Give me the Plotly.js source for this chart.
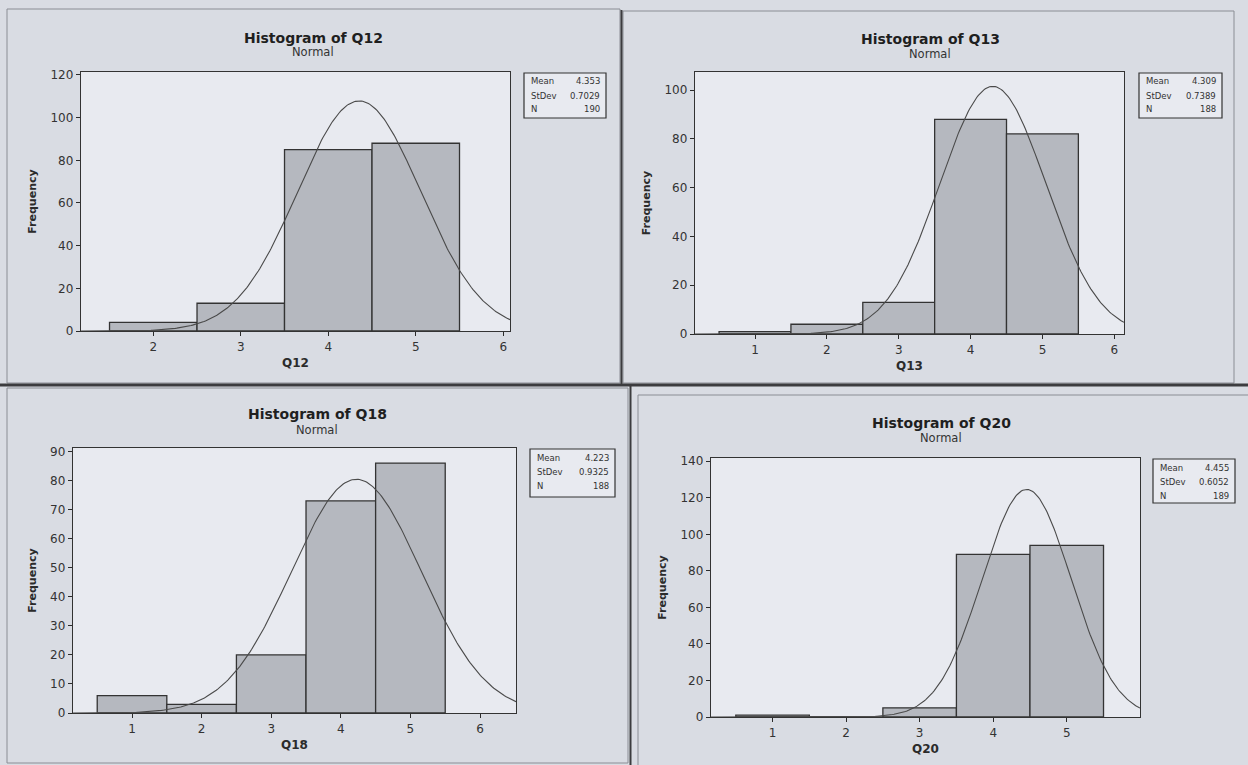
<!DOCTYPE html>
<html>
<head>
<meta charset="utf-8">
<script src="https://cdn.plot.ly/plotly-3.0.1.min.js"></script>
<style>
  html, body { margin: 0; padding: 0; background: #d9dce3; }
  #chart { width: 1248px; height: 765px; }
</style>
</head>
<body>
<div id="chart"></div>
<script>
// ---------------- data ----------------
const variableNames = ['Q12', 'Q13', 'Q18', 'Q20'];

const q12Bins = [2, 3, 4, 5];
const q12Counts = [4, 13, 85, 88];
const q13Bins = [1, 2, 3, 4, 5];
const q13Counts = [1, 4, 13, 88, 82];
const q18Bins = [1, 2, 3, 4, 5];
const q18Counts = [6, 3, 20, 73, 86];
const q20Bins = [1, 2, 3, 4, 5];
const q20Counts = [1, 0, 5, 89, 94];

const statMeans = ['4.353', '4.309', '4.223', '4.455'];
const statStDevs = ['0.7029', '0.7389', '0.9325', '0.6052'];
const statNs = ['190', '188', '188', '189'];

const q12XTicks = [2, 3, 4, 5, 6];
const q13XTicks = [1, 2, 3, 4, 5, 6];
const q18XTicks = [1, 2, 3, 4, 5, 6];
const q20XTicks = [1, 2, 3, 4, 5];

const q12YTicks = [0, 20, 40, 60, 80, 100, 120];
const q13YTicks = [0, 20, 40, 60, 80, 100];
const q18YTicks = [0, 10, 20, 30, 40, 50, 60, 70, 80, 90];
const q20YTicks = [0, 20, 40, 60, 80, 100, 120, 140];

const statLabels = ['Mean', 'StDev', 'N'];

// ---------------- layout geometry (pixels) ----------------
const W = 1248, H = 765;
const px = x => x / W;
const py = y => 1 - y / H;

const binsList = [q12Bins, q13Bins, q18Bins, q20Bins];
const countsList = [q12Counts, q13Counts, q18Counts, q20Counts];
const xTicksList = [q12XTicks, q13XTicks, q18XTicks, q20XTicks];
const yTicksList = [q12YTicks, q13YTicks, q18YTicks, q20YTicks];

const panels = [
  { plot: [81, 72, 510, 331],  frame: [7, 9, 620, 383],    box: [524, 73, 606, 118],   titleX: 313, titleY: 37.5,  subY: 52.5,  xr: [1.174, 6.077], yr: [0, 121.4] },
  { plot: [695, 72, 1124, 334], frame: [623, 11, 1234, 383], box: [1139, 73, 1222, 118], titleX: 930, titleY: 38.5,  subY: 54,    xr: [0.165, 6.135], yr: [0, 107.4] },
  { plot: [73, 448, 516, 713], frame: [7, 388, 628, 763],   box: [530, 449, 615, 497],  titleX: 317, titleY: 413.5, subY: 429.5, xr: [0.152, 6.517], yr: [0, 91.2] },
  { plot: [711, 458, 1140, 717], frame: [638, 395, 1252, 770], box: [1153, 459, 1235, 503], titleX: 941, titleY: 422.5, subY: 438.5, xr: [0.163, 5.996], yr: [0, 141.8] }
];

const FONT = 'DejaVu Sans';
const INK = '#2b2b2b';
const BAR_FILL = '#b5b8bf';
const PLOT_BG = '#e8eaf0';
const PAPER_BG = '#d9dce3';

const traces = [];
const layout = {
  width: W, height: H,
  margin: { l: 0, r: 0, t: 0, b: 0 },
  paper_bgcolor: PAPER_BG,
  plot_bgcolor: PLOT_BG,
  showlegend: false,
  bargap: 0,
  font: { family: FONT, color: INK, size: 12 },
  shapes: [],
  annotations: []
};

panels.forEach((p, i) => {
  const sfx = i === 0 ? '' : String(i + 1);
  const xa = 'x' + sfx, ya = 'y' + sfx;

  // histogram bars
  traces.push({
    type: 'bar',
    x: binsList[i],
    y: countsList[i],
    width: 1,
    xaxis: xa, yaxis: ya,
    marker: { color: BAR_FILL, line: { color: '#333333', width: 1.3 } },
    hoverinfo: 'x+y'
  });

  // fitted normal curve defined by the Mean / StDev / N shown in the stats box (bin width 1)
  const mu = parseFloat(statMeans[i]);
  const sd = parseFloat(statStDevs[i]);
  const n = parseFloat(statNs[i]);
  const cx = [], cy = [];
  const steps = 300;
  for (let k = 0; k <= steps; k++) {
    const x = p.xr[0] + (p.xr[1] - p.xr[0]) * k / steps;
    cx.push(x);
    cy.push(n / (sd * Math.sqrt(2 * Math.PI)) * Math.exp(-0.5 * Math.pow((x - mu) / sd, 2)));
  }
  traces.push({
    type: 'scatter', mode: 'lines',
    x: cx, y: cy,
    xaxis: xa, yaxis: ya,
    line: { color: '#4a4a4a', width: 1.1 },
    hoverinfo: 'skip'
  });

  const [x0, y0, x1, y1] = p.plot;
  layout['xaxis' + sfx] = {
    domain: [px(x0), px(x1)],
    anchor: ya,
    range: p.xr,
    tickvals: xTicksList[i],
    ticks: 'outside', ticklen: 4, tickwidth: 1, tickcolor: INK,
    showline: true, linecolor: '#333333', linewidth: 1.2, mirror: true,
    showgrid: false, zeroline: false,
    tickfont: { family: FONT, size: 12, color: '#333333' },
    title: { text: variableNames[i], font: { family: FONT, size: 12, color: INK, weight: 'bold' }, standoff: 6 },
    fixedrange: true
  };
  layout['yaxis' + sfx] = {
    domain: [py(y1), py(y0)],
    anchor: xa,
    range: p.yr,
    tickvals: yTicksList[i],
    ticks: 'outside', ticklen: 4, tickwidth: 1, tickcolor: INK,
    showline: true, linecolor: '#333333', linewidth: 1.2, mirror: true,
    showgrid: false, zeroline: false,
    tickfont: { family: FONT, size: 12, color: '#333333' },
    title: { text: 'Frequency', font: { family: FONT, size: 11, color: INK, weight: 'bold' }, standoff: 11 },
    fixedrange: true
  };

  // panel frame
  const [fx0, fy0, fx1, fy1] = p.frame;
  layout.shapes.push({
    type: 'rect', xref: 'paper', yref: 'paper', layer: 'below',
    x0: px(fx0), x1: px(fx1), y0: py(fy1), y1: py(fy0),
    line: { color: '#8a8d94', width: 1 }, fillcolor: 'rgba(0,0,0,0)'
  });

  // titles
  layout.annotations.push({
    xref: 'paper', yref: 'paper', x: px(p.titleX), y: py(p.titleY),
    xanchor: 'center', yanchor: 'middle', showarrow: false,
    text: '<b>Histogram of ' + variableNames[i] + '</b>',
    font: { family: FONT, size: 14, color: '#1f1f1f' }
  });
  layout.annotations.push({
    xref: 'paper', yref: 'paper', x: px(p.titleX), y: py(p.subY),
    xanchor: 'center', yanchor: 'middle', showarrow: false,
    text: 'Normal',
    font: { family: FONT, size: 11.5, color: '#333333' }
  });

  // stats box
  const [bx0, by0, bx1, by1] = p.box;
  layout.shapes.push({
    type: 'rect', xref: 'paper', yref: 'paper',
    x0: px(bx0), x1: px(bx1), y0: py(by1), y1: py(by0),
    line: { color: '#333333', width: 1.2 }, fillcolor: PLOT_BG
  });
  const vals = [statMeans[i], statStDevs[i], statNs[i]];
  statLabels.forEach((lab, r) => {
    const ry = by0 + 8.5 + 14 * r;
    layout.annotations.push({
      xref: 'paper', yref: 'paper', x: px(bx0 + 5), y: py(ry),
      xanchor: 'left', yanchor: 'middle', showarrow: false,
      text: lab, font: { family: FONT, size: 8.5, color: '#333333' }
    });
    layout.annotations.push({
      xref: 'paper', yref: 'paper', x: px(bx1 - 4), y: py(ry),
      xanchor: 'right', yanchor: 'middle', showarrow: false,
      text: vals[r], font: { family: FONT, size: 8.5, color: '#333333' }
    });
  });
});

// dark dividers of the scanned page
layout.shapes.push(
  { type: 'line', xref: 'paper', yref: 'paper', x0: 0, x1: 1, y0: py(385), y1: py(385), line: { color: '#3c3c3f', width: 3 } },
  { type: 'line', xref: 'paper', yref: 'paper', x0: px(621.5), x1: px(621.5), y0: py(10), y1: py(385), line: { color: '#3c3c3f', width: 2 } },
  { type: 'line', xref: 'paper', yref: 'paper', x0: px(630.5), x1: px(630.5), y0: py(385), y1: 0, line: { color: '#3c3c3f', width: 2 } }
);

Plotly.newPlot('chart', traces, layout, { displayModeBar: false, staticPlot: true });
</script>
</body>
</html>
